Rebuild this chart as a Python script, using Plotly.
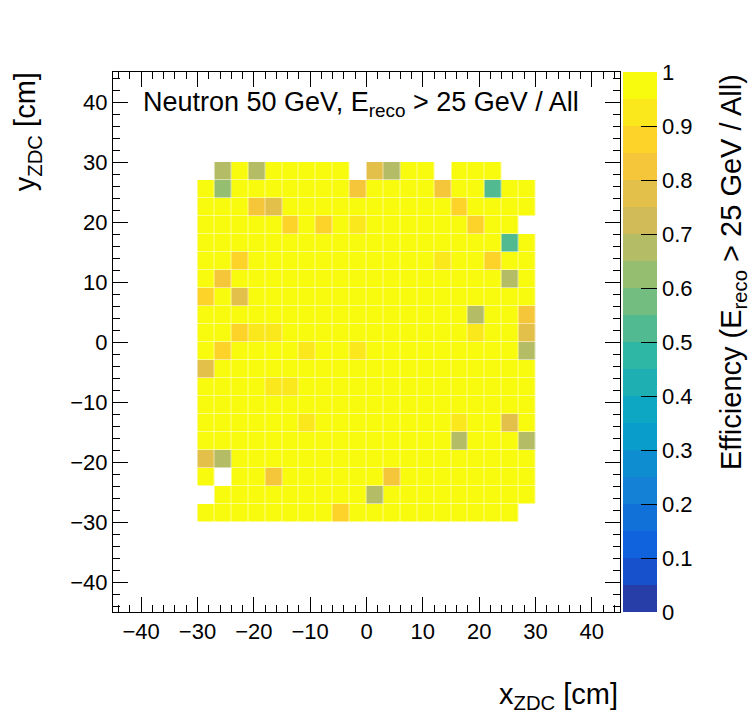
import plotly.graph_objects as go

# bin centres (3 cm bins from -30 to 30)
x_centers = [-28.5, -25.5, -22.5, -19.5, -16.5, -13.5, -10.5, -7.5, -4.5, -1.5,
             1.5, 4.5, 7.5, 10.5, 13.5, 16.5, 19.5, 22.5, 25.5, 28.5]
y_centers = [28.5, 25.5, 22.5, 19.5, 16.5, 13.5, 10.5, 7.5, 4.5, 1.5,
             -1.5, -4.5, -7.5, -10.5, -13.5, -16.5, -19.5, -22.5, -25.5, -28.5]

N = None
# efficiency per bin, rows from top (y=28.5) to bottom (y=-28.5)
eff = [
    [N, .67, 1, .67, 1, 1, 1, 1, 1, N, .77, .67, 1, 1, N, 1, 1, 1, N, N],
    [1, .62, 1, 1, 1, 1, 1, 1, 1, .82, 1, 1, 1, 1, .82, 1, 1, .52, 1, 1],
    [1, 1, 1, .82, .77, 1, 1, 1, 1, 1, 1, 1, 1, 1, 1, .87, 1, 1, 1, 1],
    [1, 1, 1, 1, 1, .87, 1, .87, 1, .92, 1, 1, 1, 1, 1, 1, .87, 1, 1, N],
    [1, 1, 1, 1, 1, 1, 1, 1, 1, 1, 1, 1, 1, 1, 1, 1, 1, 1, .52, 1],
    [1, 1, .87, 1, 1, 1, 1, 1, 1, 1, 1, 1, 1, 1, .92, 1, 1, .87, 1, 1],
    [1, .82, 1, 1, 1, 1, 1, 1, 1, 1, 1, 1, 1, 1, 1, 1, 1, 1, .67, 1],
    [.87, 1, .77, 1, 1, 1, 1, 1, 1, 1, 1, 1, 1, 1, 1, 1, 1, 1, 1, 1],
    [1, 1, 1, 1, 1, 1, 1, 1, 1, 1, 1, 1, 1, 1, 1, 1, .67, 1, 1, .82],
    [1, 1, .87, .92, .92, 1, 1, 1, 1, 1, 1, 1, 1, 1, 1, 1, .92, 1, 1, .77],
    [1, .87, 1, 1, 1, 1, .92, 1, 1, .92, 1, 1, 1, 1, 1, 1, 1, 1, 1, .67],
    [.77, 1, 1, 1, 1, 1, 1, 1, 1, 1, 1, 1, 1, 1, 1, 1, 1, 1, 1, 1],
    [1, 1, 1, 1, .92, .92, 1, 1, 1, 1, 1, 1, 1, 1, 1, 1, 1, 1, 1, 1],
    [1, 1, 1, 1, 1, 1, 1, 1, 1, 1, 1, 1, 1, 1, 1, 1, 1, 1, 1, 1],
    [1, 1, 1, 1, 1, 1, .92, 1, 1, 1, 1, 1, 1, 1, 1, .92, 1, 1, .77, 1],
    [1, 1, 1, 1, 1, 1, 1, 1, 1, 1, 1, 1, 1, 1, 1, .67, 1, 1, 1, .67],
    [.77, .67, 1, 1, 1, 1, 1, 1, 1, 1, 1, 1, 1, 1, 1, 1, 1, 1, 1, 1],
    [1, N, 1, 1, .82, 1, 1, 1, 1, 1, 1, .82, 1, 1, 1, 1, 1, 1, 1, 1],
    [N, 1, 1, 1, 1, 1, 1, 1, 1, 1, .67, 1, 1, 1, 1, 1, 1, 1, 1, 1],
    [1, 1, 1, 1, 1, 1, 1, 1, .87, 1, 1, 1, 1, 1, 1, 1, 1, 1, 1, N],
]

cbar_ticks = [0, 0.1, 0.2, 0.3, 0.4, 0.5, 0.6, 0.7, 0.8, 0.9, 1]
cbar_labels = ["0", "0.1", "0.2", "0.3", "0.4", "0.5", "0.6", "0.7", "0.8", "0.9", "1"]

# ROOT kBird palette, 20 contour bands
stops = [0.0, 0.125, 0.25, 0.375, 0.5, 0.625, 0.75, 0.875, 1.0]
red = [0.2082, 0.0592, 0.0780, 0.0232, 0.1802, 0.5301, 0.8186, 0.9956, 0.9764]
green = [0.1664, 0.3599, 0.5041, 0.6419, 0.7178, 0.7492, 0.7328, 0.7862, 0.9832]
blue = [0.5293, 0.8684, 0.8385, 0.7914, 0.6425, 0.4662, 0.3499, 0.1968, 0.0539]


def bird(p):
    for k in range(len(stops) - 1):
        if p <= stops[k + 1]:
            t = (p - stops[k]) / (stops[k + 1] - stops[k])
            rgb = [c[k] + (c[k + 1] - c[k]) * t for c in (red, green, blue)]
            return "rgb(%d,%d,%d)" % tuple(int(round(v * 255)) for v in rgb)
    return "rgb(249,251,14)"


nband = 20
colorscale = []
for i in range(nband):
    idx = int((i + 0.99) * 255 / nband)
    col = bird(min(idx, 254) / 254)
    colorscale.append([i / nband, col])
    colorscale.append([(i + 1) / nband, col])

font = "Liberation Sans, Arial, Helvetica, sans-serif"

fig = go.Figure()
fig.add_trace(go.Heatmap(
    x=x_centers, y=y_centers, z=eff,
    zmin=0, zmax=1, colorscale=colorscale,
    xgap=0.5, ygap=0.5,
    hoverongaps=False,
    colorbar=dict(
        x=1.006, xanchor="left", xpad=0, y=0.5, ypad=0,
        len=1, lenmode="fraction", thickness=34,
        outlinewidth=0,
        tickmode="array", tickvals=cbar_ticks, ticktext=cbar_labels,
        ticks="inside", ticklen=16, tickcolor="black",
        tickfont=dict(family=font, size=22, color="black"),
    ),
))

axis_common = dict(
    range=[-45, 45], dtick=10, tick0=0,
    ticks="inside", ticklen=15, tickcolor="black",
    minor=dict(dtick=2, ticks="inside", ticklen=7, tickcolor="black"),
    showline=True, linecolor="black", linewidth=1, mirror="allticks",
    showgrid=False, zeroline=False,
    tickfont=dict(family=font, size=22, color="black"),
)

# page body adds an 8 px offset, so the figure is 8 px smaller
fig.update_layout(
    width=748, height=713,
    margin=dict(l=105, r=136, t=64, b=109),
    paper_bgcolor="white", plot_bgcolor="white",
    xaxis=axis_common,
    yaxis=axis_common,
    annotations=[
        dict(text="Neutron 50 GeV, E<sub>reco</sub> &gt; 25 GeV / All",
             xref="paper", yref="paper", x=0.055, y=0.94,
             xanchor="left", yanchor="middle", showarrow=False,
             font=dict(family=font, size=27, color="black")),
        dict(text="x<sub>ZDC</sub> [cm]",
             xref="paper", yref="paper", x=1.0, y=-0.156,
             xanchor="right", yanchor="middle", showarrow=False,
             font=dict(family=font, size=29, color="black")),
        dict(text="y<sub>ZDC</sub> [cm]", textangle=-90,
             xref="paper", yref="paper", x=-0.168, y=1.004,
             xanchor="center", yanchor="top", showarrow=False,
             font=dict(family=font, size=29, color="black")),
        dict(text="Efficiency (E<sub>reco</sub> &gt; 25 GeV / All)", textangle=-90,
             xref="paper", yref="paper", x=1.223, y=1.0,
             xanchor="center", yanchor="top", showarrow=False,
             font=dict(family=font, size=29, color="black")),
    ],
)

fig.write_html("out.html")
